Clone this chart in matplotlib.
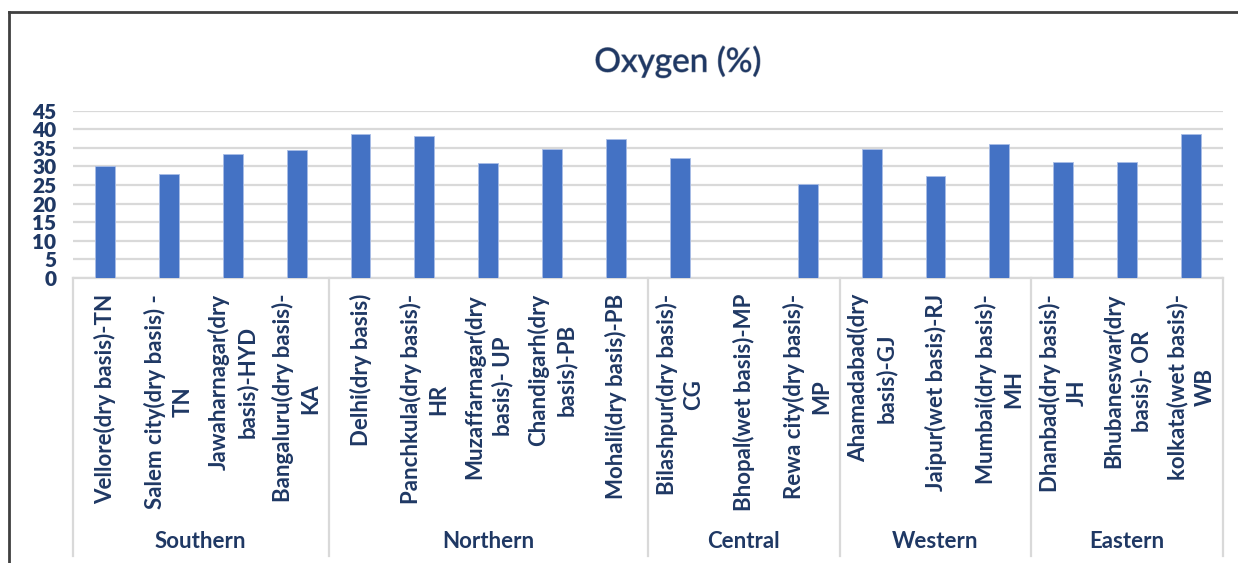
"""
Oxygen (%) by city, grouped by region — Excel-style column chart
"""
import matplotlib
matplotlib.use("Agg")
import matplotlib.pyplot as plt
import matplotlib.transforms as mtransforms
import matplotlib.patheffects as pe
import numpy as np

# ---------------------------------------------------------------------------
# Data
# ---------------------------------------------------------------------------
CITIES = [
    "Vellore(dry basis)-TN",
    "Salem city(dry basis) -\nTN",
    "Jawaharnagar(dry\nbasis)-HYD",
    "Bangaluru(dry basis)-\nKA",
    "Delhi(dry basis)",
    "Panchkula(dry basis)-\nHR",
    "Muzaffarnagar(dry\nbasis)- UP",
    "Chandigarh(dry\nbasis)-PB",
    "Mohali(dry basis)-PB",
    "Bilashpur(dry basis)-\nCG",
    "Bhopal(wet basis)-MP",
    "Rewa city(dry basis)-\nMP",
    "Ahamadabad(dry\nbasis)-GJ",
    "Jaipur(wet basis)-RJ",
    "Mumbai(dry basis)-\nMH",
    "Dhanbad(dry basis)-\nJH",
    "Bhubaneswar(dry\nbasis)- OR",
    "kolkata(wet basis)-\nWB",
]
OXYGEN = [30.0, 28.0, 33.3, 34.5, 38.6, 38.3, 31.0, 34.6, 37.4,
          32.3, np.nan, 25.3, 34.8, 27.4, 36.0, 31.2, 31.2, 38.8]
REGIONS = ["Southern", "Northern", "Central", "Western", "Eastern"]
REGION_SIZES = [4, 5, 3, 3, 3]

Y_TICKS = list(range(0, 50, 5))

NAVY = "#1f3864"
BAR = "#4472c4"
GRID = "#d9d9d9"

plt.rcParams["font.family"] = ["Lato", "DejaVu Sans"]

# ---------------------------------------------------------------------------
# Figure
# ---------------------------------------------------------------------------
W, H = 1238, 563
fig = plt.figure(figsize=(W / 100, H / 100), dpi=100)
fig.patch.set_facecolor("white")

left, right, top, bottom = 73, 1223, 110.7, 278
ax = fig.add_axes([left / W, 1 - bottom / H, (right - left) / W, (bottom - top) / H])

x = np.arange(len(CITIES))
ax.bar(x, OXYGEN, width=0.31, color=BAR, edgecolor="#a9bde6", linewidth=0.6, zorder=3)

ax.set_xlim(-0.5, len(CITIES) - 0.5)
ax.set_ylim(0, 45)
ax.set_yticks(Y_TICKS)
ax.set_yticklabels([str(t) for t in Y_TICKS], fontsize=15, fontweight="heavy", color=NAVY)
ax.tick_params(axis="y", length=0, pad=12)
ax.set_xticks([])
ax.yaxis.grid(True, color=GRID, linewidth=1.6, zorder=0)
for side in ["left", "right", "top"]:
    ax.spines[side].set_visible(False)
ax.spines["bottom"].set_color(GRID)
ax.spines["bottom"].set_linewidth(1.6)

# category labels and region boxes (data x, figure y)
trans = mtransforms.blended_transform_factory(ax.transData, fig.transFigure)
for xi, label in zip(x, CITIES):
    ax.text(xi, 1 - 294 / H, label, transform=trans, rotation=90,
            ha="center", va="top", multialignment="center",
            fontsize=16, fontweight="bold", color=NAVY, linespacing=1.35)

edges = np.concatenate([[0], np.cumsum(REGION_SIZES)]) - 0.5
for e in edges:
    ax.add_line(plt.Line2D([e, e], [1 - bottom / H, 1 - 556 / H], transform=trans,
                           color=GRID, linewidth=1.6, clip_on=False))
for i, name in enumerate(REGIONS):
    mid = (edges[i] + edges[i + 1]) / 2
    ax.text(mid, 1 - 541 / H, name, transform=trans, ha="center", va="center",
            fontsize=16, fontweight="bold", color=NAVY)

# title
fig.text(678 / W, 1 - 62 / H, "Oxygen (%)", ha="center", va="center",
         fontsize=24, color=NAVY,
         path_effects=[pe.withStroke(linewidth=0.8, foreground="#8c96a8")])

# chart frame (left and top edges visible)
fig.add_artist(plt.Line2D([9 / W, 9 / W], [0, 1 - 12 / H], color="#404040", linewidth=2))
fig.add_artist(plt.Line2D([9 / W, 1], [1 - 12 / H, 1 - 12 / H], color="#404040", linewidth=2))

fig.savefig("out.png", dpi=100)
